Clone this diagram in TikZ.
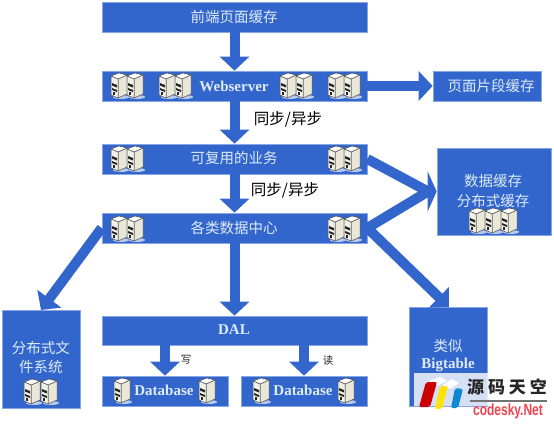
\documentclass[tikz,border=0pt]{standalone}
\usepackage{fontspec}
\setmainfont{Liberation Serif}
\newfontfamily\cjk{Noto Sans CJK SC}
\usetikzlibrary{arrows.meta}
\definecolor{bluebox}{HTML}{3366CC}
\definecolor{edgeblue}{HTML}{86A6E6}
\definecolor{labelblue}{HTML}{DDEBF7}
\definecolor{cream}{HTML}{E9E7D8}
\definecolor{wmred}{HTML}{EE4450}
\tikzset{
  boxnode/.style={fill=bluebox,draw=edgeblue,line width=0.7pt,inner sep=0pt,align=center,text=labelblue},
  cn/.style={font=\cjk\fontsize{14.5}{19}\selectfont,text=labelblue,inner sep=0pt,align=center},
  en/.style={font=\bfseries\fontsize{15}{18}\selectfont,text=labelblue,inner sep=0pt},
  note/.style={font=\cjk\fontsize{15.5}{18}\selectfont,text=black,inner sep=0pt},
  small/.style={font=\cjk\fontsize{10.5}{12}\selectfont,text=black!85,inner sep=0pt},
  flow/.style={draw=bluebox,line width=10pt},
  bigtip/.style={-{Triangle[length=14pt,width=29pt,fill=bluebox]}},
  server/.pic={
    \fill[edgeblue!60!white] (2,11) ellipse (8pt and 2pt);
    \filldraw[fill=cream,draw=black!70,line width=.5pt] (-1,-7) -- (8,-11) -- (8,8) -- (-1,12) -- cycle;
    \filldraw[fill=white,draw=black!70,line width=.5pt] (-8,-10) -- (0,-13) -- (8,-11) -- (-1,-7) -- cycle;
    \filldraw[fill=cream!60!white,draw=black!70,line width=.5pt] (-8,-10) -- (-1,-7) -- (-1,12) -- (-8,9) -- cycle;
    \fill[black!85] (-7,-3) -- (-2,-1) -- (-2,1.5) -- (-7,-.5) -- cycle;
    \fill[black!85] (-7,2) -- (-2,4) -- (-2,6) -- (-7,4) -- cycle;
    \fill[black!85] (-6,6) rectangle (-4,8.5);
  }
}
\begin{document}
\begin{tikzpicture}[x=1pt,y=-1pt]
\useasboundingbox (0,0) rectangle (554,431);
\fill[white] (0,0) rectangle (554,431);
% boxes
\node[boxnode,minimum width=265pt,minimum height=30pt] (front) at (234.5,17) {};
\node[boxnode,minimum width=265pt,minimum height=30pt] (web) at (234.5,86) {};
\node[boxnode,minimum width=265pt,minimum height=30pt] (reuse) at (234.5,159) {};
\node[boxnode,minimum width=265pt,minimum height=30pt] (center) at (234.5,228) {};
\node[boxnode,minimum width=265pt,minimum height=29pt] (dal) at (234.5,330.5) {};
\node[boxnode,minimum width=126pt,minimum height=30pt] (dba) at (165,391) {};
\node[boxnode,minimum width=126pt,minimum height=30pt] (dbb) at (304,391) {};
\node[boxnode,minimum width=108pt,minimum height=30pt] (frag) at (487,86) {};
\node[boxnode,minimum width=114pt,minimum height=87pt] (cache) at (494,191.5) {};
\node[boxnode,minimum width=78pt,minimum height=98pt] (dfs) at (41,359) {};
\node[boxnode,minimum width=78pt,minimum height=99pt] (big) at (448,356.5) {};
% connectors
\draw[flow,bigtip] (front) -- (web);
\draw[flow,bigtip] (web) -- (reuse);
\draw[flow,bigtip] (reuse) -- (center);
\draw[flow,bigtip] (center) -- (dal);
\draw[flow,bigtip] (web.east) -- (frag.west);
\coordinate (dalw) at (165,345);
\coordinate (dale) at (304,345);
\draw[flow,bigtip] (dalw) -- (dba.north);
\draw[flow,bigtip] (dale) -- (dbb.north);
\coordinate (join) at (428,191.5);
\draw[flow] (reuse.east) -- (join);
\draw[flow] (center.east) -- (join);
\draw[flow,-{Triangle[length=9pt,width=40pt,fill=bluebox]}] (join) -- (cache.west);
\coordinate (bigtop) at (449,307);
\coordinate (dfstop) at (41,310);
\draw[flow,-{Triangle[length=14pt,width=28pt,fill=bluebox]}] (center.east) -- (bigtop);
\draw[flow,-{Triangle[length=14pt,width=29pt,fill=bluebox]}] (center.west) -- (dfstop);
% servers
\foreach \x in {119,135,167,183,288,304,336,352} \pic at (\x,86) {server};
\foreach \x in {119,135,336,352} {\pic at (\x,159) {server}; \pic at (\x,229) {server};}
\foreach \x in {122,207,261,346} \pic at (\x,391) {server};
\foreach \x in {32,49} \pic at (\x,392) {server};
\foreach \x in {477,493,509} \pic at (\x,221) {server};
% labels
\node[cn] (tfront) at (234,17) {前端页面缓存};
\node[en] (tweb) at (234,86) {Webserver};
\node[cn] (treuse) at (234,158) {可复用的业务};
\node[cn] (tcenter) at (234,228) {各类数据中心};
\node[en] (tdal) at (234,330) {DAL};
\node[en] (tdba) at (164,390) {Database};
\node[en] (tdbb) at (303,390) {Database};
\node[cn] (tfrag) at (491,86) {页面片段缓存};
\node[cn] (tcachea) at (493,181) {数据缓存};
\node[cn] (tcacheb) at (493,201) {分布式缓存};
\node[cn] (tdfsa) at (41,348) {分布式文};
\node[cn] (tdfsb) at (41,367) {件系统};
\node[cn] (tbiga) at (448,346) {类似};
\node[en] (tbigb) at (448,365) {Bigtable};
\node[note] (syncb) at (288,119) {同步/异步};
\node[note] (synca) at (285,190) {同步/异步};
\node[small] (write) at (186,360) {写};
\node[small] (read) at (328,361) {读};
% watermark
\fill[white,opacity=.8] (414,373) rectangle (488,406);
\fill[white] (429,381) -- (440,377) -- (447,381) -- (436,386) -- cycle;
\fill[white] (443,385) -- (452,379) -- (459,383) -- (450,389) -- cycle;
\fill[red!80!black,rounded corners=2pt] (426,382) -- (437,382) -- (430,407) -- (419,407) -- cycle;
\fill[yellow!85!orange,rounded corners=2pt] (440,386) -- (448,386) -- (442,409) -- (435,409) -- cycle;
\fill[cyan!70!blue,rounded corners=2pt] (455,388) -- (463,389) -- (458,408) -- (451,408) -- cycle;
\node[inner sep=0pt,text=black!85,font=\cjk\bfseries\fontsize{17}{20}\selectfont] (wmcn) at (507,387) {源\hspace{4pt}码\hspace{4pt}天\hspace{4pt}空};
\draw[black!55,line width=1.2pt] (470,401) -- (547,401);
\node[inner sep=0pt,text=wmred,font=\fontspec{Liberation Sans}\bfseries\fontsize{12}{14}\selectfont] (wmen) at (508,411) {\scalebox{1}[1.35]{codesky.Net}};
\end{tikzpicture}
\end{document}
